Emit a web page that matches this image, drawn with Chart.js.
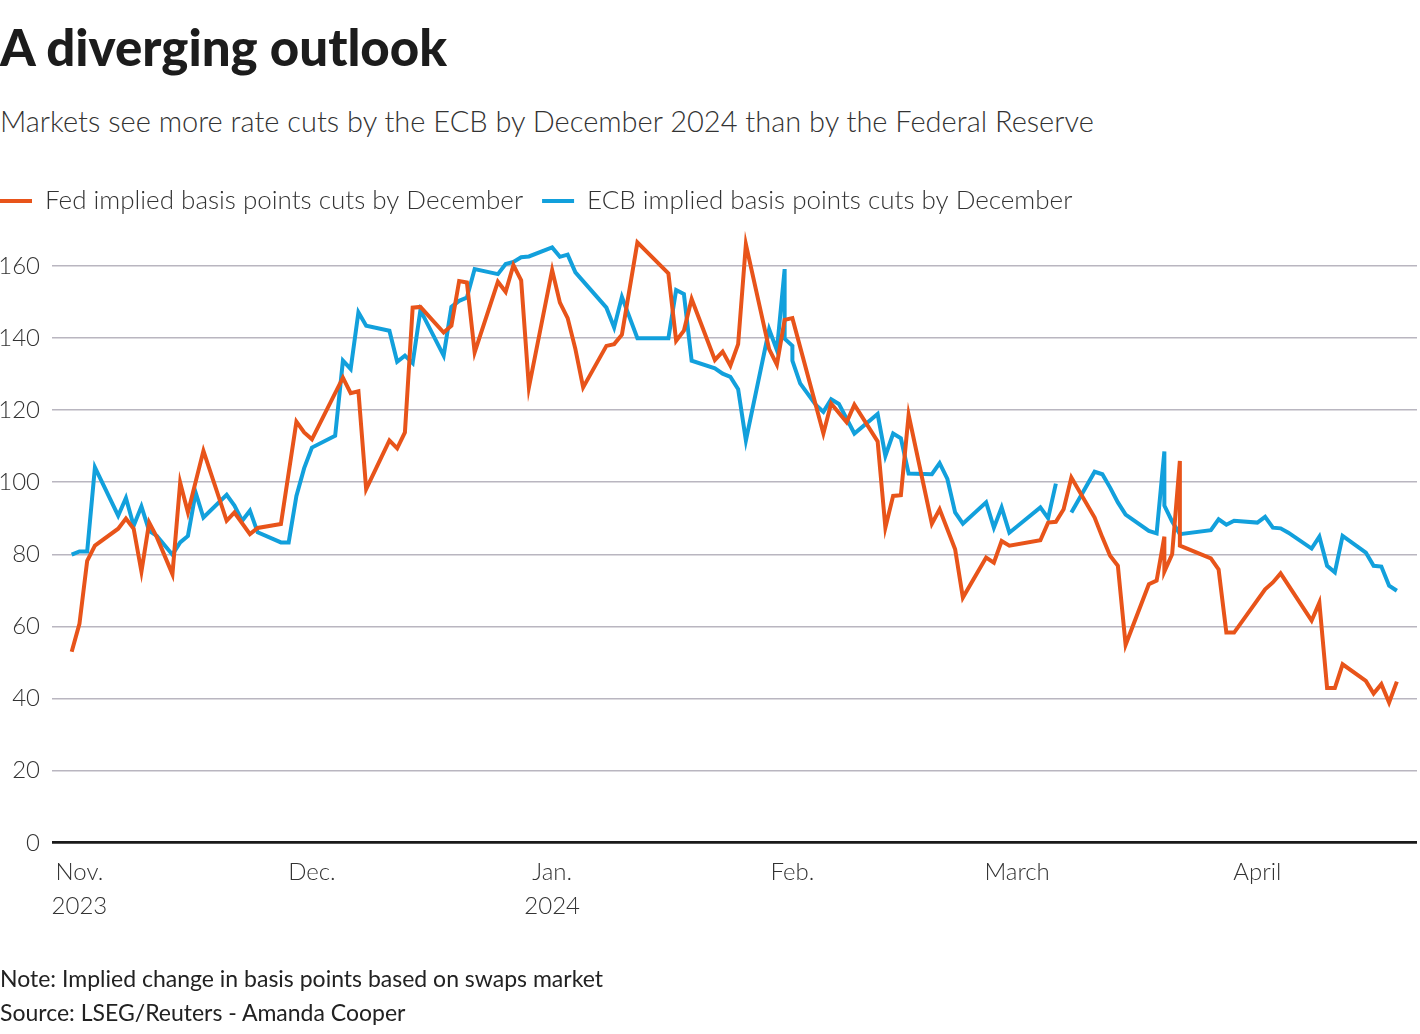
<!DOCTYPE html>
<html>
<head>
<meta charset="utf-8">
<title>A diverging outlook</title>
<script src="https://cdn.jsdelivr.net/npm/chart.js"></script>
<style>
  html, body { margin: 0; padding: 0; background: #fff; }
  body { width: 1420px; height: 1034px; position: relative; overflow: hidden; font-family: Lato, "Noto Sans", sans-serif; }
  .txt { position: absolute; left: 0; white-space: nowrap; line-height: normal; }
  #title { top: 16px; font-size: 51px; font-weight: 900; color: #1c1c1c; }
  #subtitle { top: 103px; font-size: 29px; font-weight: 300; color: #333; }
  #note { top: 964px; font-size: 23px; color: #222; }
  #source { top: 998px; font-size: 23px; color: #222; }
  #wrap { position: absolute; left: -19px; top: 0; width: 1439px; height: 1034px; }
</style>
</head>
<body>
<div id="title" class="txt">A diverging outlook</div>
<div id="subtitle" class="txt">Markets see more rate cuts by the ECB by December 2024 than by the Federal Reserve</div>
<div id="wrap"><canvas id="outlookChart"></canvas></div>
<div id="note" class="txt">Note: Implied change in basis points based on swaps market</div>
<div id="source" class="txt">Source: LSEG/Reuters - Amanda Cooper</div>
<script>
// Días contados desde el 1 de noviembre de 2023
const fedDays = [-1, 0, 1, 2, 5, 6, 7, 8, 9, 10, 12, 13, 14, 16, 19, 20, 22, 23, 26, 28,
  29, 30, 34, 35, 36, 37, 40, 41, 42, 43, 44, 47, 48, 49, 50, 51, 54, 55, 56, 57,
  58, 61, 62, 63, 64, 65, 68, 69, 70, 72, 76, 77, 78, 79, 82, 83, 84, 85, 86, 89,
  90, 91, 92, 96, 97, 99, 100, 103, 104, 105, 106, 107, 110, 111, 113, 114, 117, 118, 119, 120,
  124, 125, 126, 127, 128, 131, 132, 133, 134, 135, 138, 139, 140, 140, 141, 142, 142, 146, 147, 148,
  149, 153, 154, 155, 159, 160, 161, 162, 163, 166, 167, 168, 169, 170];
const fedValues = [53.0, 60.7, 78.2, 82.4, 87.1, 89.9, 87.1, 75.2, 88.8, 84.7, 74.5, 99.9, 91.6, 108.7, 89.3, 91.6, 85.6, 87.3, 88.4, 116.8,
  113.8, 111.9, 129.0, 124.7, 125.2, 98.1, 111.6, 109.4, 113.8, 148.4, 148.6, 141.5, 143.4, 155.8, 155.4, 136.0, 155.6, 152.8, 160.2, 156.0,
  126.3, 158.8, 149.8, 145.5, 136.9, 126.3, 137.8, 138.3, 140.9, 166.5, 157.9, 139.2, 142.0, 150.8, 133.9, 136.2, 132.3, 138.3, 166.0, 136.9,
  132.6, 145.0, 145.5, 113.5, 121.8, 116.6, 121.5, 111.3, 87.4, 96.2, 96.4, 118.7, 88.5, 92.5, 81.4, 68.0, 79.1, 77.7, 83.7, 82.4,
  83.9, 88.8, 89.0, 92.5, 101.3, 90.2, 84.7, 79.6, 76.8, 54.9, 71.7, 72.7, 84.9, 75.2, 80.0, 105.9, 82.4, 78.9, 75.8, 58.3,
  58.3, 70.3, 72.2, 74.7, 61.6, 66.6, 42.9, 42.9, 49.5, 44.9, 41.4, 44.0, 38.9, 44.7];

const ecbDays = [-1, 0, 1, 2, 5, 6, 7, 8, 9, 10, 12, 13, 14, 15, 16, 19, 20, 21, 22, 23,
  26, 27, 28, 29, 30, 33, 34, 35, 36, 37, 40, 41, 42, 43, 44, 47, 48, 49, 50, 51,
  54, 55, 56, 57, 58, 61, 62, 63, 64, 68, 69, 70, 72, 76, 77, 78, 79, 82, 83, 84,
  85, 86, 89, 90, 91, 91, 92, 92, 93, 95, 96, 97, 98, 100, 103, 104, 105, 106, 107, 110,
  111, 112, 113, 114, 117, 118, 119, 120, 124, 125, 126, 127, 128, 131, 132, 133, 134, 135, 138, 139,
  140, 140, 141, 142, 146, 147, 148, 149, 152, 153, 154, 155, 156, 159, 160, 161, 162, 163, 166, 167,
  168, 169, 170];
const ecbValues = [79.9, 80.8, 80.8, 104.1, 90.7, 95.6, 87.9, 93.3, 86.5, 85.1, 79.9, 83.3, 85.1, 97.1, 90.2, 96.5, 93.5, 89.3, 92.1, 86.1,
  83.3, 83.3, 96.2, 103.9, 109.6, 112.9, 133.7, 131.4, 147.1, 143.4, 142.0, 133.4, 135.1, 133.0, 147.7, 135.1, 148.6, 150.3, 151.2, 159.1,
  157.7, 160.5, 161.1, 162.4, 162.6, 165.1, 162.5, 163.1, 158.2, 148.4, 142.9, 151.4, 139.9, 139.9, 153.3, 152.2, 133.7, 131.6, 130.1, 129.2,
  125.8, 111.6, 142.4, 136.6, 159.1, 139.8, 137.8, 133.7, 127.4, 121.5, 119.5, 123.0, 121.7, 113.5, 118.9, 107.3, 113.5, 112.2, 102.4, 102.2,
  105.3, 100.9, 91.6, 88.5, 94.4, 87.4, 93.0, 86.0, 93.0, 90.0, 99.6, null, 91.6, 102.9, 102.2, 98.5, 94.4, 91.0, 86.5, 85.8,
  108.5, 93.5, 89.1, 85.6, 86.7, 89.7, 88.2, 89.3, 88.8, 90.4, 87.4, 87.2, 86.0, 81.6, 84.9, 76.8, 75.0, 85.1, 80.5, 76.8,
  76.6, 71.3, 69.9];

// Marcas del eje X (inicio de cada mes) y eje Y
const monthTicks = [0, 30, 61, 92, 121, 152];
const monthLabels = [['Nov.', '2023'], 'Dec.', ['Jan.', '2024'], 'Feb.', 'March', 'April'];
const yTicks = [0, 20, 40, 60, 80, 100, 120, 140, 160];

const FED_COLOR = '#e8541a';
const ECB_COLOR = '#12a0dc';

function toPoints(days, values) {
    return days.map((d, i) => ({ x: d, y: values[i] }));
}

const lightFont = (size) => ({ family: 'Lato', size: size, weight: '300', lineHeight: 1.4 });

const ctx = document.getElementById('outlookChart').getContext('2d');
new Chart(ctx, {
    type: 'line',
    data: {
        datasets: [{
            label: 'Fed implied basis points cuts by December',
            data: toPoints(fedDays, fedValues),
            borderColor: FED_COLOR,
            backgroundColor: FED_COLOR,
            borderWidth: 4,
            pointRadius: 0,
            tension: 0
        }, {
            label: 'ECB implied basis points cuts by December',
            data: toPoints(ecbDays, ecbValues),
            borderColor: ECB_COLOR,
            backgroundColor: ECB_COLOR,
            borderWidth: 4,
            pointRadius: 0,
            tension: 0,
            spanGaps: false
        }]
    },
    options: {
        responsive: true,
        maintainAspectRatio: false,
        animation: false,
        layout: { padding: { top: 169, bottom: 98, left: 0, right: 3 } },
        plugins: {
            legend: {
                position: 'top',
                align: 'start',
                labels: {
                    boxWidth: 32,
                    boxHeight: 4,
                    padding: 19,
                    color: '#333',
                    font: { family: 'Lato', size: 26, weight: '300' },
                    // Sin borde alrededor de la muestra de color
                    generateLabels: function (chart) {
                        return Chart.defaults.plugins.legend.labels.generateLabels(chart)
                            .map(item => Object.assign(item, { lineWidth: 0 }));
                    }
                }
            },
            tooltip: { enabled: false }
        },
        scales: {
            x: {
                type: 'linear',
                min: -3.54,
                max: 172.6,
                grid: { display: false, drawTicks: false },
                border: { display: false },
                afterBuildTicks: function (axis) {
                    axis.ticks = monthTicks.map(v => ({ value: v }));
                },
                ticks: {
                    autoSkip: false,
                    maxRotation: 0,
                    padding: 13,
                    color: '#333',
                    font: lightFont(24),
                    callback: function (value) {
                        return monthLabels[monthTicks.indexOf(value)];
                    }
                }
            },
            y: {
                min: 0,
                max: 171.6,
                afterBuildTicks: function (axis) {
                    axis.ticks = yTicks.map(v => ({ value: v }));
                },
                afterFit: function (axis) {
                    axis.width = 71;
                },
                grid: {
                    drawTicks: false,
                    color: c => (c.tick && c.tick.value === 0) ? '#1a1a1a' : '#b9b6c0',
                    lineWidth: c => (c.tick && c.tick.value === 0) ? 2.8 : 1.5
                },
                border: { display: false },
                ticks: {
                    padding: 12,
                    color: '#333',
                    font: lightFont(24)
                }
            }
        }
    }
});
</script>
</body>
</html>
